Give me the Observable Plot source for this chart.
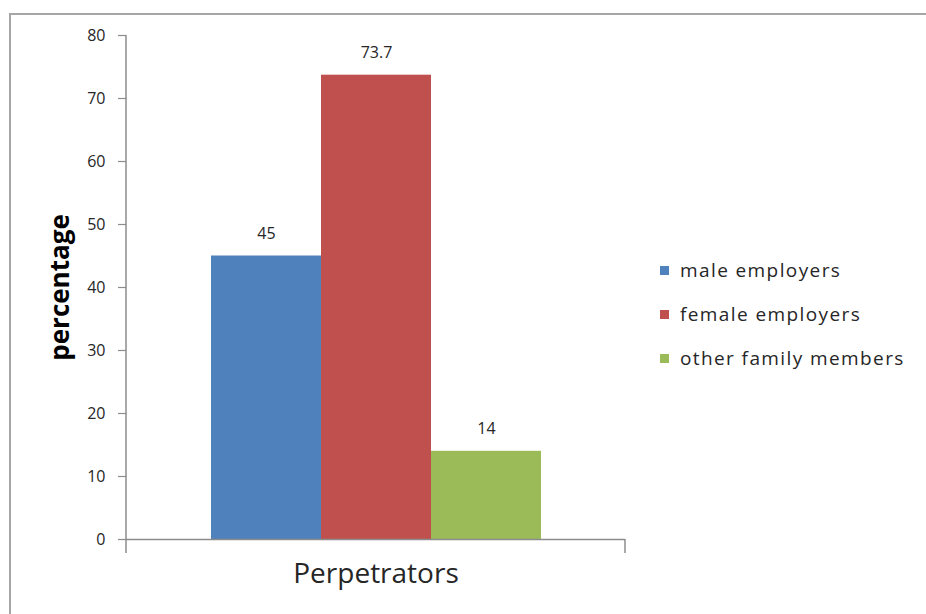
<!DOCTYPE html>
<html>
<head>
<meta charset="utf-8">
<script src="https://cdn.jsdelivr.net/npm/d3@7"></script>
<script src="https://cdn.jsdelivr.net/npm/@observablehq/plot@0.6"></script>
<style>
  html, body { margin: 0; padding: 0; background: #fff; overflow: hidden; width: 926px; height: 614px; }
  #frame { position: absolute; left: 9px; top: 13px; width: 960px; height: 640px; border-left: 2px solid #a6a6a6; border-top: 2px solid #a6a6a6; box-sizing: border-box; }
  #chart { position: absolute; left: 0; top: 0; }
  #legend { position: absolute; left: 660px; top: 248px; font-family: "Open Sans", "Liberation Sans", sans-serif; font-size: 19px; color: #262626; letter-spacing: 1.4px; }
  .item { display: flex; align-items: center; height: 44px; white-space: nowrap; }
  .sw { width: 9px; height: 9px; margin-right: 11px; flex: none; }
</style>
</head>
<body>
<div id="frame"></div>
<div id="chart"></div>
<div id="legend"></div>
<script>
const categories = ["male employers", "female employers", "other family members"];
const values = [45, 73.7, 14];
const colors = ["#4f81bd", "#c0504d", "#9bbb59"];
const yTicks = [0, 10, 20, 30, 40, 50, 60, 70, 80];
const groupLabel = "Perpetrators";
const yLabel = "percentage";

const data = categories.map((c, i) => ({category: c, value: values[i]}));

const W = 926, H = 614;
const mL = 126, mR = 301, mT = 35, mB = 75;
const axisColor = "#8c8c8c";

const chart = Plot.plot({
  width: W,
  height: H,
  marginLeft: mL,
  marginRight: mR,
  marginTop: mT,
  marginBottom: mB,
  style: {fontFamily: "'Open Sans', 'Liberation Sans', sans-serif", background: "transparent", overflow: "visible"},
  x: {domain: categories, paddingInner: 0, paddingOuter: 0.758, axis: null},
  y: {domain: [0, 80], axis: null},
  color: {domain: categories, range: colors},
  marks: [
    Plot.barY(data, {x: "category", y: "value", fill: "category", inset: 0}),
    Plot.ruleY([0], {stroke: axisColor, strokeWidth: 1.5}),
    Plot.tickY(yTicks, {y: d => d, stroke: axisColor, strokeWidth: 1.2}),
    Plot.text(yTicks, {y: d => d, text: d => String(d), frameAnchor: "left", textAnchor: "end", dx: -21, fontSize: 16, fill: "#262626", letterSpacing: 1}),
    Plot.text(data, {x: "category", y: "value", text: d => String(d.value), dy: -22, fontSize: 16, fill: "#262626", letterSpacing: 1.5}),
    Plot.text([groupLabel], {frameAnchor: "bottom", textAnchor: "middle", dy: 43, fontSize: 28, fill: "#262626", letterSpacing: 1}),
    Plot.text([yLabel], {frameAnchor: "left", textAnchor: "middle", dx: -66, rotate: -90, fontSize: 26, fontWeight: "bold", fill: "#000"})
  ]
});

document.getElementById("chart").appendChild(chart);

// axis lines derived from the scales
const svg = d3.select(chart);
const ys = chart.scale("y");
const y0 = ys.apply(0), yTop = ys.apply(80);
const xl = mL, xr = W - mR;
svg.selectAll("g[aria-label='tick'] line").attr("x1", xl - 8).attr("x2", xl);
svg.append("line").attr("x1", xl).attr("x2", xl).attr("y1", yTop).attr("y2", y0 + 14)
  .attr("stroke", axisColor).attr("stroke-width", 1.5);
svg.append("line").attr("x1", xr).attr("x2", xr).attr("y1", y0).attr("y2", y0 + 14)
  .attr("stroke", axisColor).attr("stroke-width", 1.5);

// legend
const legend = document.getElementById("legend");
categories.forEach((c, i) => {
  const item = document.createElement("div");
  item.className = "item";
  const sw = document.createElement("span");
  sw.className = "sw";
  sw.style.background = colors[i];
  const t = document.createElement("span");
  t.textContent = c;
  item.appendChild(sw);
  item.appendChild(t);
  legend.appendChild(item);
});
</script>
</body>
</html>
